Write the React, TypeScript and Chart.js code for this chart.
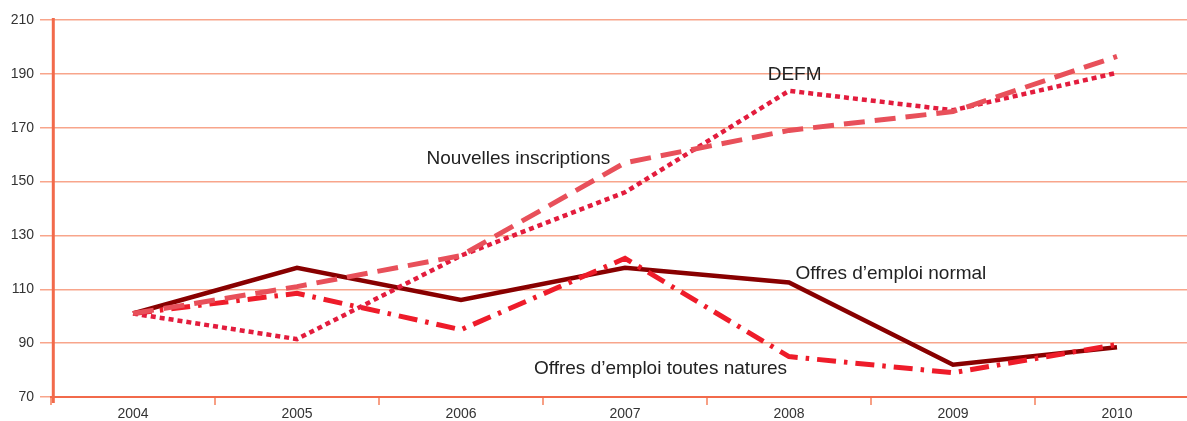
import React, { useEffect, useRef } from "react";
import { Chart, registerables } from "chart.js";

Chart.register(...registerables);

const years = ["2004", "2005", "2006", "2007", "2008", "2009", "2010"];
const offresNormal = [101, 118, 106, 118, 112.5, 82, 88.5];
const offresToutes = [101, 108.5, 95, 121.5, 85, 79, 89.5];
const nouvellesInscriptions = [101, 111, 122.5, 157, 169, 176, 196.5];
const defm = [101, 91.5, 122.5, 146, 183.7, 176.5, 190.4];

const yTicks = [70, 90, 110, 130, 150, 170, 190, 210];

const annotations = [
  { text: "DEFM", x: 3.87, y: 189.6 },
  { text: "Nouvelles inscriptions", x: 1.79, y: 158.3 },
  { text: "Offres d\u2019emploi normal", x: 4.04, y: 115.9 },
  { text: "Offres d\u2019emploi toutes natures", x: 2.445, y: 80.6 },
];

const FONT = "'Liberation Sans', Arial, Helvetica, sans-serif";

const labelPlugin = {
  id: "lineLabels",
  afterDatasetsDraw(chart: any) {
    const ctx = chart.ctx;
    const xs = chart.scales.x;
    const ys = chart.scales.y;
    ctx.save();
    ctx.font = `19px ${FONT}`;
    ctx.fillStyle = "#222222";
    ctx.textAlign = "left";
    ctx.textBaseline = "middle";
    for (const a of annotations) {
      ctx.fillText(a.text, xs.getPixelForValue(a.x), ys.getPixelForValue(a.y));
    }
    ctx.restore();
  },
};

const yAxisLinePlugin = {
  id: "yAxisLine",
  afterDraw(chart: any) {
    const ctx = chart.ctx;
    const area = chart.chartArea;
    ctx.save();
    ctx.strokeStyle = "#f26a4b";
    ctx.lineWidth = 3;
    ctx.beginPath();
    ctx.moveTo(area.left + 2.3, area.top - 2);
    ctx.lineTo(area.left + 2.3, area.bottom + 6);
    ctx.stroke();
    ctx.restore();
  },
};

export default function App() {
  const ref = useRef<HTMLCanvasElement | null>(null);
  useEffect(() => {
    if (!ref.current) return;
    const chart = new Chart(ref.current, {
      type: "line",
      data: {
        labels: years,
        datasets: [
          {
            label: "Nouvelles inscriptions",
            data: nouvellesInscriptions,
            borderColor: "#e8505a",
            borderWidth: 5,
            borderDash: [21, 10],
            pointRadius: 0,
            tension: 0,
          },
          {
            label: "DEFM",
            data: defm,
            borderColor: "#e31c3d",
            borderWidth: 4.5,
            borderDash: [5, 4],
            pointRadius: 0,
            tension: 0,
          },
          {
            label: "Offres d\u2019emploi toutes natures",
            data: offresToutes,
            borderColor: "#ee1c2a",
            borderWidth: 5,
            borderDash: [19, 8, 3.5, 8],
            pointRadius: 0,
            tension: 0,
          },
          {
            label: "Offres d\u2019emploi normal",
            data: offresNormal,
            borderColor: "#880000",
            borderWidth: 4.5,
            pointRadius: 0,
            tension: 0,
          },
        ],
      },
      options: {
        responsive: false,
        animation: false,
        devicePixelRatio: 1,
        layout: { padding: { left: 0, top: 20, right: 11, bottom: 0 } },
        plugins: { legend: { display: false }, tooltip: { enabled: false } },
        scales: {
          x: {
            offset: true,
            grid: {
              offset: true,
              drawOnChartArea: false,
              drawTicks: true,
              tickLength: 8,
              color: "#f7a085",
              lineWidth: 2,
            },
            border: { display: true, color: "#f26a4b", width: 2 },
            ticks: {
              color: "#333333",
              font: { family: FONT, size: 14 },
              padding: 1,
              maxRotation: 0,
            },
            afterFit: (s: any) => {
              s.height = 24;
            },
          },
          y: {
            min: 70,
            max: 210,
            afterBuildTicks: (s: any) => {
              s.ticks = yTicks.map((v) => ({ value: v }));
            },
            grid: {
              color: "#f8a58b",
              lineWidth: 1.5,
              tickLength: 11,
              drawTicks: true,
            },
            border: { display: false },
            ticks: {
              color: "#333333",
              font: { family: FONT, size: 14 },
              padding: 6,
            },
            afterFit: (s: any) => {
              s.width = 51;
            },
          },
        },
      },
      plugins: [labelPlugin, yAxisLinePlugin],
    });
    return () => chart.destroy();
  }, []);
  return (
    <div
      style={{
        position: "fixed",
        left: 0,
        top: 0,
        width: 1187,
        height: 421,
        overflow: "hidden",
        background: "#ffffff",
      }}
    >
      <canvas ref={ref} width={1210} height={421} style={{ display: "block" }} />
    </div>
  );
}
